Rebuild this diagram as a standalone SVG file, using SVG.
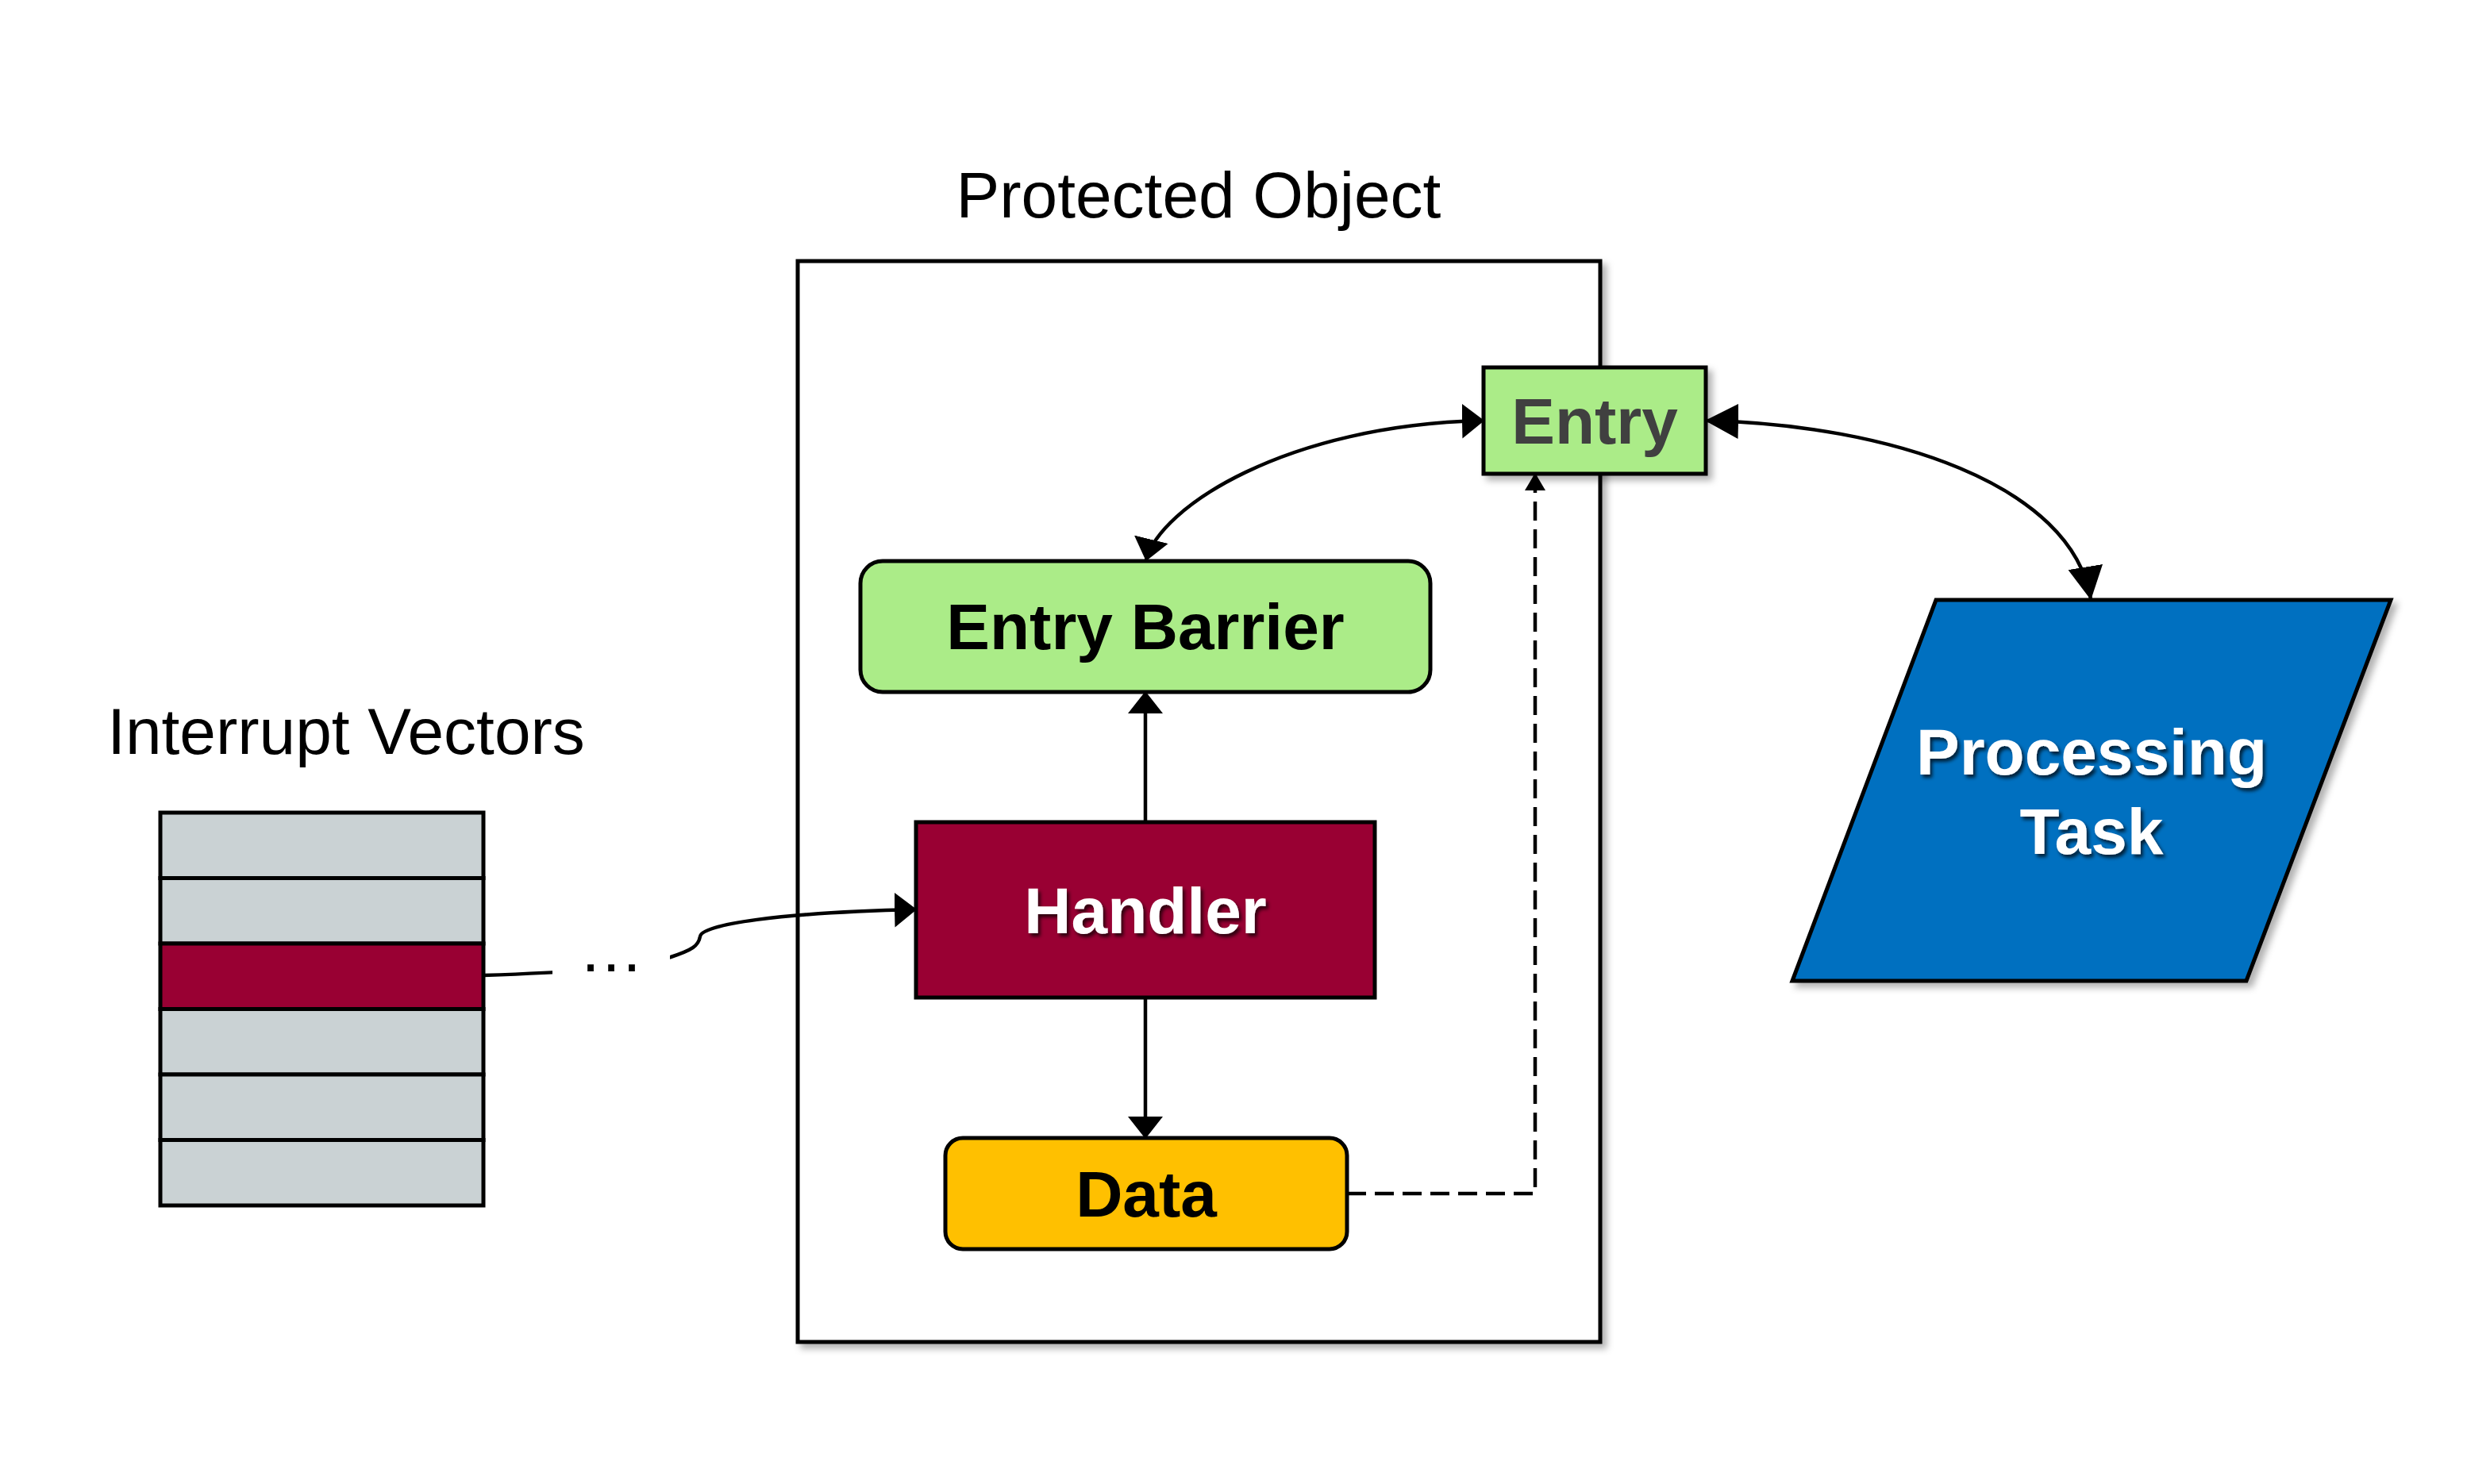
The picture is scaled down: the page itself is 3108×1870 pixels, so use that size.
<svg xmlns="http://www.w3.org/2000/svg" width="3108" height="1870" viewBox="0 0 3108 1870">
<style>
text{font-family:"Liberation Sans",Arial,Helvetica,sans-serif;font-size:82px;text-anchor:middle}
.b{font-weight:bold}
.node{stroke:#000;stroke-width:5}
.conn{fill:none;stroke:#000;stroke-width:4.5}
.row{fill:#cad2d4;stroke:#000;stroke-width:5}
</style>
<defs>
<filter id="sh" x="-10%" y="-10%" width="130%" height="130%">
<feDropShadow dx="6" dy="6" stdDeviation="4" flood-color="#000" flood-opacity="0.3"/>
</filter>
<filter id="tsh" x="-10%" y="-20%" width="130%" height="150%">
<feDropShadow dx="3" dy="4" stdDeviation="2" flood-color="#000" flood-opacity="0.7"/>
</filter>
<marker id="arr" markerUnits="userSpaceOnUse" markerWidth="28" markerHeight="44" refX="27" refY="22" orient="auto-start-reverse">
<path d="M0,0 L28,22 L0,44 Z" fill="#000"/>
</marker>
<marker id="arrL" markerUnits="userSpaceOnUse" markerWidth="42" markerHeight="44" refX="41" refY="22" orient="auto-start-reverse">
<path d="M0,0 L42,22 L0,44 Z" fill="#000"/>
</marker>
<marker id="arrS" markerUnits="userSpaceOnUse" markerWidth="22" markerHeight="26" refX="21" refY="13" orient="auto-start-reverse">
<path d="M0,0 L22,13 L0,26 Z" fill="#000"/>
</marker>
</defs>
<rect width="3108" height="1870" fill="#fff"/>

<g id="protected-object">
<rect x="1005" y="329" width="1011" height="1362" fill="#fff" stroke="#000" stroke-width="5" filter="url(#sh)"/>
<text x="1510" y="274">Protected Object</text>
</g>

<g id="interrupt-vectors">
<text x="436" y="950">Interrupt Vectors</text>
<rect class="row" x="202" y="1024" width="407" height="82.5"/>
<rect class="row" x="202" y="1106.5" width="407" height="82.5"/>
<rect class="row" x="202" y="1189" width="407" height="82.5" style="fill:#990033"/>
<rect class="row" x="202" y="1271.5" width="407" height="82.5"/>
<rect class="row" x="202" y="1354" width="407" height="82.5"/>
<rect class="row" x="202" y="1436.5" width="407" height="82.5"/>
</g>

<g id="connectors">
<path class="conn" d="M1869,530 C1620,535 1460,640 1444,706" marker-start="url(#arr)" marker-end="url(#arr)"/>
<path class="conn" d="M2149,530 C2380,535 2610,610 2634,755" marker-start="url(#arrL)" marker-end="url(#arrL)"/>
<path class="conn" d="M1443,1036 L1443,872" marker-end="url(#arr)"/>
<path class="conn" d="M1443,1257 L1443,1434" marker-end="url(#arr)"/>
<path class="conn" d="M1697,1504 L1934,1504 L1934,597" stroke-dasharray="24 11" marker-end="url(#arrS)"/>
<path class="conn" d="M609,1229 C700,1226 790,1222 845,1206 C872,1197 880,1192 882,1180 C884,1165 980,1150 1154,1146" marker-end="url(#arr)"/>
<rect x="696" y="1186" width="148" height="62" fill="#fff"/>
<text x="770" y="1224">…</text>
</g>

<g id="entry">
<rect class="node" x="1869" y="463" width="280" height="134" fill="#abec88" filter="url(#sh)"/>
<text class="b" x="2009" y="559" fill="#404040">Entry</text>
</g>

<g id="entry-barrier">
<rect class="node" x="1084" y="707" width="718" height="165" rx="28" ry="28" fill="#abec88"/>
<text class="b" x="1443" y="818">Entry Barrier</text>
</g>

<g id="handler">
<rect class="node" x="1154" y="1036" width="578" height="221" fill="#990033"/>
<text class="b" x="1443" y="1176" fill="#fff" filter="url(#tsh)">Handler</text>
</g>

<g id="data">
<rect class="node" x="1191" y="1434" width="506" height="140" rx="22" ry="22" fill="#ffc000"/>
<text class="b" x="1444" y="1533">Data</text>
</g>

<g id="processing-task">
<polygon class="node" points="2439,756 3012,756 2830,1236 2258,1236" fill="#0070c0" filter="url(#sh)"/>
<text class="b" x="2635" y="976" fill="#fff" filter="url(#tsh)">Processing</text>
<text class="b" x="2635" y="1076" fill="#fff" filter="url(#tsh)">Task</text>
</g>
</svg>
